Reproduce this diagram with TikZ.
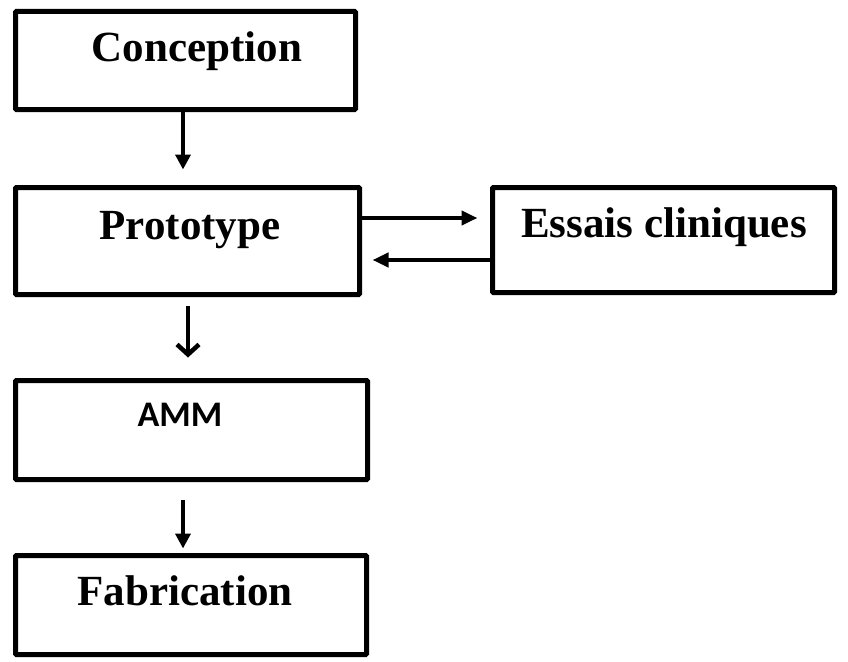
\documentclass[tikz,border=0pt]{standalone}
\usepackage{fontspec}
\setmainfont{Liberation Serif}
\newfontfamily\amfont{Carlito}
\usetikzlibrary{arrows.meta}
\begin{document}
\begin{tikzpicture}[x=1pt,y=-1pt,
  box/.style={draw=black,line width=5pt,rounded corners=1pt,inner sep=0pt},
  lbl/.style={anchor=base,inner sep=0pt,font=\fontsize{43}{50}\selectfont\bfseries},
  samlbl/.style={anchor=base,inner sep=0pt,font=\fontsize{36}{42}\selectfont\amfont\bfseries},
  arr/.style={line width=4.5pt,-{Triangle[length=15pt,width=15pt]}},
  harr/.style={line width=4.5pt,-{Triangle[length=16pt,width=14pt]}},
  oarr/.style={line width=4.5pt,-{Straight Barb[length=10pt,width=22pt]}}]
\useasboundingbox (0,0) rectangle (848,661);
\node[box,minimum width=340pt,minimum height=98pt] (conc) at (185.5,60.5) {};
\node[box,minimum width=344pt,minimum height=107pt] (proto) at (187.5,241) {};
\node[box,minimum width=342pt,minimum height=105pt] (ess) at (663.5,240) {};
\node[box,minimum width=352pt,minimum height=99pt] (amm) at (191.5,430) {};
\node[box,minimum width=351pt,minimum height=99pt] (fab) at (191,605) {};
\node[lbl] (tconc) at (197,62) {Conception};
\node[lbl] (tproto) at (190,239) {Prototype};
\node[lbl] (tess) at (664,237) {Essais cliniques};
\node[samlbl] (tamm) at (180,426) {AMM};
\node[lbl] (tfab) at (185,605) {Fabrication};
\draw[arr,shorten >=15.5pt] ([xshift=-2.5pt]conc.south) -- ([xshift=-2.5pt]conc.south |- proto.north);
\draw[oarr,shorten <=8.5pt,shorten >=20.5pt] ([xshift=0.5pt]proto.south) -- ([xshift=0.5pt]proto.south |- amm.north);
\draw[arr,shorten <=17.5pt,shorten >=4.5pt] ([xshift=-8.5pt]amm.south) -- ([xshift=-8.5pt]amm.south |- fab.north);
\draw[harr,shorten >=12.5pt] ([yshift=23pt]proto.east) -- ([yshift=23pt]proto.east -| ess.west);
\draw[harr,shorten >=10.5pt] ([yshift=-20pt]ess.west) -- ([yshift=-20pt]ess.west -| proto.east);
\end{tikzpicture}
\end{document}
